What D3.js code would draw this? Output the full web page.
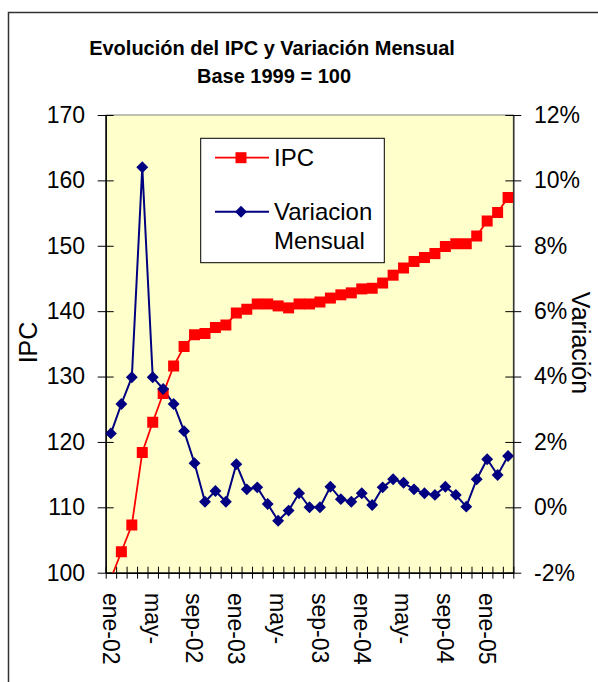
<!DOCTYPE html>
<html>
<head>
<meta charset="utf-8">
<script src="https://cdn.jsdelivr.net/npm/d3@7"></script>
<style>
  html, body { margin: 0; padding: 0; background: #ffffff; }
  svg { display: block; font-family: "Liberation Sans", Arial, sans-serif; }
</style>
</head>
<body>
<svg id="chart" width="598" height="682"></svg>
<script>
// Meses de la serie (ene-02 a mar-05)
const meses = [
  "ene-02","feb-02","mar-02","abr-02","may-02","jun-02","jul-02","ago-02","sep-02","oct-02","nov-02","dic-02",
  "ene-03","feb-03","mar-03","abr-03","may-03","jun-03","jul-03","ago-03","sep-03","oct-03","nov-03","dic-03",
  "ene-04","feb-04","mar-04","abr-04","may-04","jun-04","jul-04","ago-04","sep-04","oct-04","nov-04","dic-04",
  "ene-05","feb-05","mar-05"
];

// Etiquetas del eje de categorías (una cada cuatro meses)
const etiquetasMes = ["ene-02","may-","sep-02","ene-03","may-","sep-03","ene-04","may-","sep-04","ene-05"];
const pasoEtiqueta = 4;

// Índice de precios al consumidor (base 1999 = 100)
const ipc = [
  99.1, 103.2, 107.3, 118.4, 123.0, 127.4, 131.6, 134.6, 136.4, 136.6, 137.5, 137.9,
  139.7, 140.3, 141.1, 141.1, 140.8, 140.5, 141.1, 141.1, 141.4, 142.0, 142.5, 142.8,
  143.4, 143.5, 144.3, 145.5, 146.6, 147.6, 148.2, 148.8, 149.9, 150.3, 150.3, 151.5,
  153.8, 155.1, 157.4
];

// Variación mensual del IPC (%)
const variacion = [
  2.26, 3.16, 3.98, 10.4, 3.98, 3.62, 3.16, 2.33, 1.35, 0.17, 0.50, 0.17,
  1.32, 0.55, 0.61, 0.10, -0.41, -0.10, 0.43, 0.00, 0.00, 0.63, 0.25, 0.17,
  0.43, 0.07, 0.61, 0.86, 0.75, 0.55, 0.43, 0.38, 0.63, 0.38, 0.02, 0.86,
  1.47, 0.99, 1.57
];

// Marcas de los ejes de valores
const ticksIPC = [100, 110, 120, 130, 140, 150, 160, 170];
const ticksVar = [-2, 0, 2, 4, 6, 8, 10, 12];

const svg = d3.select("#chart");

// Marco del gráfico
svg.append("rect")
  .attr("x", 8.5).attr("y", 12.5)
  .attr("width", 700).attr("height", 700)
  .attr("fill", "#ffffff")
  .attr("stroke", "#333333").attr("stroke-width", 1.5);

const plot = { left: 105.7, right: 513.3, top: 115, bottom: 572.7 };

const x = d3.scaleBand().domain(meses).range([plot.left, plot.right]).padding(0);
const xBorde = d3.scaleLinear().domain([0, meses.length]).range([plot.left, plot.right]);
const yL = d3.scaleLinear().domain([100, 170]).range([plot.bottom, plot.top]);
const yR = d3.scaleLinear().domain([-2, 12]).range([plot.bottom, plot.top]);

// Área de trazado
svg.append("rect")
  .attr("x", plot.left).attr("y", plot.top)
  .attr("width", plot.right - plot.left).attr("height", plot.bottom - plot.top)
  .attr("fill", "#FFFFCC")
  .attr("stroke", "#808080").attr("stroke-width", 1);

// Títulos
const titulo = svg.append("g").attr("font-weight", "bold").attr("font-size", 20)
  .attr("text-anchor", "middle").attr("fill", "#000");
titulo.append("text").attr("x", 272).attr("y", 54.5).text("Evolución del IPC y Variación Mensual");
titulo.append("text").attr("x", 274).attr("y", 82.5).text("Base 1999 = 100");

// Eje izquierdo (IPC)
const ejeIzq = svg.append("g")
  .attr("transform", `translate(${plot.left},0)`)
  .call(d3.axisLeft(yL).tickValues(ticksIPC).tickSizeInner(8).tickSizeOuter(0).tickPadding(12.7));
ejeIzq.selectAll(".tick line").attr("x1", 8).attr("x2", -8).attr("stroke", "#000");
ejeIzq.select(".domain").attr("stroke", "#000").attr("stroke-width", 1.5);
ejeIzq.selectAll("text").attr("font-size", 23).attr("fill", "#000")
  .attr("font-family", "Liberation Sans, Arial, sans-serif");

// Eje derecho (variación)
const ejeDer = svg.append("g")
  .attr("transform", `translate(${plot.right},0)`)
  .call(d3.axisRight(yR).tickValues(ticksVar).tickFormat(d => d + "%")
    .tickSizeInner(8).tickSizeOuter(0).tickPadding(12.7));
ejeDer.selectAll(".tick line").attr("x1", -8).attr("x2", 8).attr("stroke", "#000");
ejeDer.select(".domain").attr("stroke", "#333").attr("stroke-width", 1.5);
ejeDer.selectAll("text").attr("font-size", 23).attr("fill", "#000")
  .attr("font-family", "Liberation Sans, Arial, sans-serif");

// Eje de categorías: marcas entre meses
const ejeInf = svg.append("g")
  .attr("transform", `translate(0,${plot.bottom})`)
  .call(d3.axisBottom(xBorde).tickValues(d3.range(meses.length + 1))
    .tickFormat("").tickSizeInner(6).tickSizeOuter(0));
ejeInf.selectAll(".tick line").attr("y1", -6).attr("y2", 6).attr("stroke", "#000");
ejeInf.select(".domain").attr("stroke", "#000").attr("stroke-width", 1.5);

// Etiquetas de meses, giradas
svg.append("g").selectAll("text")
  .data(etiquetasMes)
  .join("text")
  .attr("transform", (d, i) => `translate(${x(meses[i * pasoEtiqueta]) + x.bandwidth() / 2},593) rotate(90)`)
  .attr("dy", "0.35em")
  .attr("text-anchor", "start")
  .attr("font-size", 23)
  .attr("fill", "#000")
  .text(d => d);

// Títulos de los ejes
svg.append("text")
  .attr("transform", `translate(37,342.5) rotate(-90)`)
  .attr("text-anchor", "middle").attr("font-size", 25).attr("fill", "#000")
  .text("IPC");
svg.append("text")
  .attr("transform", `translate(572,343) rotate(90)`)
  .attr("text-anchor", "middle").attr("font-size", 25).attr("fill", "#000")
  .text("Variación");

// Series recortadas al área de trazado
svg.append("clipPath").attr("id", "recorte")
  .append("rect")
  .attr("x", plot.left).attr("y", plot.top)
  .attr("width", plot.right - plot.left).attr("height", plot.bottom - plot.top);

const series = svg.append("g").attr("clip-path", "url(#recorte)");
const cx = (d, i) => x(meses[i]) + x.bandwidth() / 2;

const lineaIPC = d3.line().x(cx).y(d => yL(d));
series.append("path").datum(ipc)
  .attr("d", lineaIPC).attr("fill", "none")
  .attr("stroke", "#FF0000").attr("stroke-width", 1.8);

const lineaVar = d3.line().x(cx).y(d => yR(d));
series.append("path").datum(variacion)
  .attr("d", lineaVar).attr("fill", "none")
  .attr("stroke", "#000080").attr("stroke-width", 2);

const cuadrado = d3.symbol().type(d3.symbolSquare).size(121);
const rombo = d3.symbol().type(d3.symbolDiamond2).size(90);

series.append("g").selectAll("path")
  .data(ipc).join("path")
  .attr("transform", (d, i) => `translate(${cx(d, i)},${yL(d)})`)
  .attr("d", cuadrado).attr("fill", "#FF0000");

series.append("g").selectAll("path")
  .data(variacion).join("path")
  .attr("transform", (d, i) => `translate(${cx(d, i)},${yR(d)})`)
  .attr("d", rombo).attr("fill", "#000080");

// Leyenda
const ley = svg.append("g");
ley.append("rect")
  .attr("x", 200.7).attr("y", 138.3).attr("width", 183.6).attr("height", 124.4)
  .attr("fill", "#ffffff").attr("stroke", "#000").attr("stroke-width", 1);
ley.append("line").attr("x1", 215).attr("x2", 269).attr("y1", 157.7).attr("y2", 157.7)
  .attr("stroke", "#FF0000").attr("stroke-width", 1.8);
ley.append("path").attr("transform", "translate(241,157.7)").attr("d", cuadrado).attr("fill", "#FF0000");
ley.append("line").attr("x1", 215).attr("x2", 269).attr("y1", 211.7).attr("y2", 211.7)
  .attr("stroke", "#000080").attr("stroke-width", 2);
ley.append("path").attr("transform", "translate(241,211.7)").attr("d", rombo).attr("fill", "#000080");
const leyTxt = ley.append("g").attr("font-size", 24).attr("fill", "#000");
leyTxt.append("text").attr("x", 274).attr("y", 165.5).text("IPC");
leyTxt.append("text").attr("x", 274).attr("y", 219.5).text("Variacion");
leyTxt.append("text").attr("x", 274).attr("y", 248.5).text("Mensual");
</script>
</body>
</html>
